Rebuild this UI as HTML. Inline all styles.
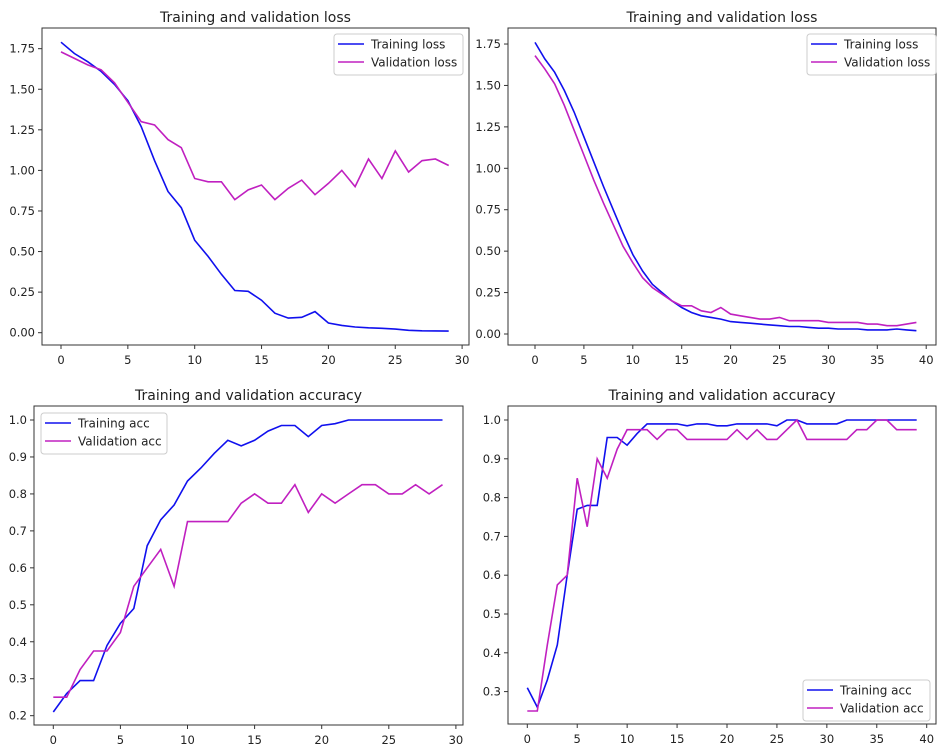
<!DOCTYPE html><html><head><meta charset="utf-8"><style>body{margin:0;background:#fff}svg{display:block}text{font-family:"DejaVu Sans","Liberation Sans",sans-serif;fill:#222}</style></head><body>
<svg id="s" width="946" height="755" xmlns="http://www.w3.org/2000/svg"></svg>
<script>
const S=document.getElementById('s');let h='';
function plot(o){
 const X=v=>o.x0+(v)*o.xs, Y=v=>o.y0-(v-o.yb)*o.ys;
 h+=`<text x="${(o.L+o.R)/2}" y="${o.T-6}" font-size="14" text-anchor="middle">${o.title}</text>`;
 o.xt.forEach(t=>{const x=X(t);h+=`<line x1="${x}" x2="${x}" y1="${o.B}" y2="${o.B+4}" stroke="#333"/><text x="${x}" y="${o.B+19}" font-size="11.5" text-anchor="middle">${t}</text>`});
 o.yt.forEach(t=>{const y=Y(t);h+=`<line x1="${o.L-4}" x2="${o.L}" y1="${y}" y2="${y}" stroke="#333"/><text x="${o.L-7}" y="${y+4}" font-size="11.5" text-anchor="end">${t.toFixed(o.d)}</text>`});
 [[o.a,'#1010ee'],[o.b,'#c020c0']].forEach(([d,c])=>{h+=`<polyline fill="none" stroke="${c}" stroke-width="1.6" points="${d.map((v,i)=>X(i).toFixed(1)+','+Y(v).toFixed(1)).join(' ')}"/>`});
 h+=`<rect x="${o.L}" y="${o.T}" width="${o.R-o.L}" height="${o.B-o.T}" fill="none" stroke="#333" stroke-width="1"/>`;
 const g=o.lg;h+=`<rect x="${g[0]}" y="${g[1]}" width="${g[2]}" height="41" rx="3" fill="#fff" stroke="#ccc"/>`;
 [[o.n[0],'#1010ee'],[o.n[1],'#c020c0']].forEach(([n,c],i)=>{const y=g[1]+10+i*18;h+=`<line x1="${g[0]+4}" x2="${g[0]+30}" y1="${y}" y2="${y}" stroke="${c}" stroke-width="1.6"/><text x="${g[0]+37}" y="${y+4.5}" font-size="12">${n}</text>`});
}
plot({title:'Training and validation loss',L:42,R:469,T:28,B:345,x0:61,xs:13.37,y0:332.7,yb:0,ys:162.3,d:2,xt:[0,5,10,15,20,25,30],yt:[0,.25,.5,.75,1,1.25,1.5,1.75],lg:[334,34,129],n:['Training loss','Validation loss'],
a:[1.79,1.72,1.67,1.61,1.53,1.43,1.27,1.06,0.87,0.77,0.57,0.47,0.36,0.26,0.255,0.2,0.12,0.09,0.095,0.13,0.06,0.045,0.035,0.03,0.027,0.022,0.015,0.012,0.011,0.01],
b:[1.73,1.69,1.65,1.62,1.54,1.42,1.30,1.28,1.19,1.14,0.95,0.93,0.93,0.82,0.88,0.91,0.82,0.89,0.94,0.85,0.92,1.0,0.9,1.07,0.95,1.12,0.99,1.06,1.07,1.03]});
plot({title:'Training and validation loss',L:508,R:936,T:28,B:345,x0:535,xs:9.78,y0:334,yb:0,ys:165.7,d:2,xt:[0,5,10,15,20,25,30,35,40],yt:[0,.25,.5,.75,1,1.25,1.5,1.75],lg:[807,34,129],n:['Training loss','Validation loss'],
a:[1.76,1.66,1.58,1.47,1.34,1.19,1.04,0.89,0.75,0.61,0.48,0.38,0.30,0.25,0.20,0.16,0.13,0.11,0.10,0.09,0.075,0.07,0.065,0.06,0.055,0.05,0.045,0.045,0.04,0.035,0.035,0.03,0.03,0.03,0.025,0.025,0.025,0.03,0.025,0.02],
b:[1.68,1.60,1.51,1.38,1.23,1.08,0.93,0.79,0.66,0.53,0.43,0.34,0.28,0.24,0.20,0.17,0.17,0.14,0.13,0.16,0.12,0.11,0.10,0.09,0.09,0.10,0.08,0.08,0.08,0.08,0.07,0.07,0.07,0.07,0.06,0.06,0.05,0.05,0.06,0.07]});
plot({title:'Training and validation accuracy',L:34,R:463,T:406,B:725,x0:53.3,xs:13.42,y0:420,yb:1,ys:369.6,d:1,xt:[0,5,10,15,20,25,30],yt:[.2,.3,.4,.5,.6,.7,.8,.9,1],lg:[41,413,126],n:['Training acc','Validation acc'],
a:[0.21,0.26,0.295,0.295,0.39,0.45,0.49,0.66,0.73,0.77,0.835,0.87,0.91,0.945,0.93,0.945,0.97,0.985,0.985,0.955,0.985,0.99,1,1,1,1,1,1,1,1],
b:[0.25,0.25,0.325,0.375,0.375,0.425,0.55,0.6,0.65,0.55,0.725,0.725,0.725,0.725,0.775,0.8,0.775,0.775,0.825,0.75,0.8,0.775,0.8,0.825,0.825,0.8,0.8,0.825,0.8,0.825]});
plot({title:'Training and validation accuracy',L:508,R:936,T:406,B:724,x0:527.3,xs:9.985,y0:420,yb:1,ys:388,d:1,xt:[0,5,10,15,20,25,30,35,40],yt:[.3,.4,.5,.6,.7,.8,.9,1],lg:[803,680,127],n:['Training acc','Validation acc'],
a:[0.31,0.26,0.33,0.42,0.6,0.77,0.78,0.78,0.955,0.955,0.935,0.965,0.99,0.99,0.99,0.99,0.985,0.99,0.99,0.985,0.985,0.99,0.99,0.99,0.99,0.985,1,1,0.99,0.99,0.99,0.99,1,1,1,1,1,1,1,1],
b:[0.25,0.25,0.42,0.575,0.6,0.85,0.725,0.9,0.85,0.925,0.975,0.975,0.975,0.95,0.975,0.975,0.95,0.95,0.95,0.95,0.95,0.975,0.95,0.975,0.95,0.95,0.975,1,0.95,0.95,0.95,0.95,0.95,0.975,0.975,1,1,0.975,0.975,0.975]});
S.innerHTML=h;
</script></body></html>
